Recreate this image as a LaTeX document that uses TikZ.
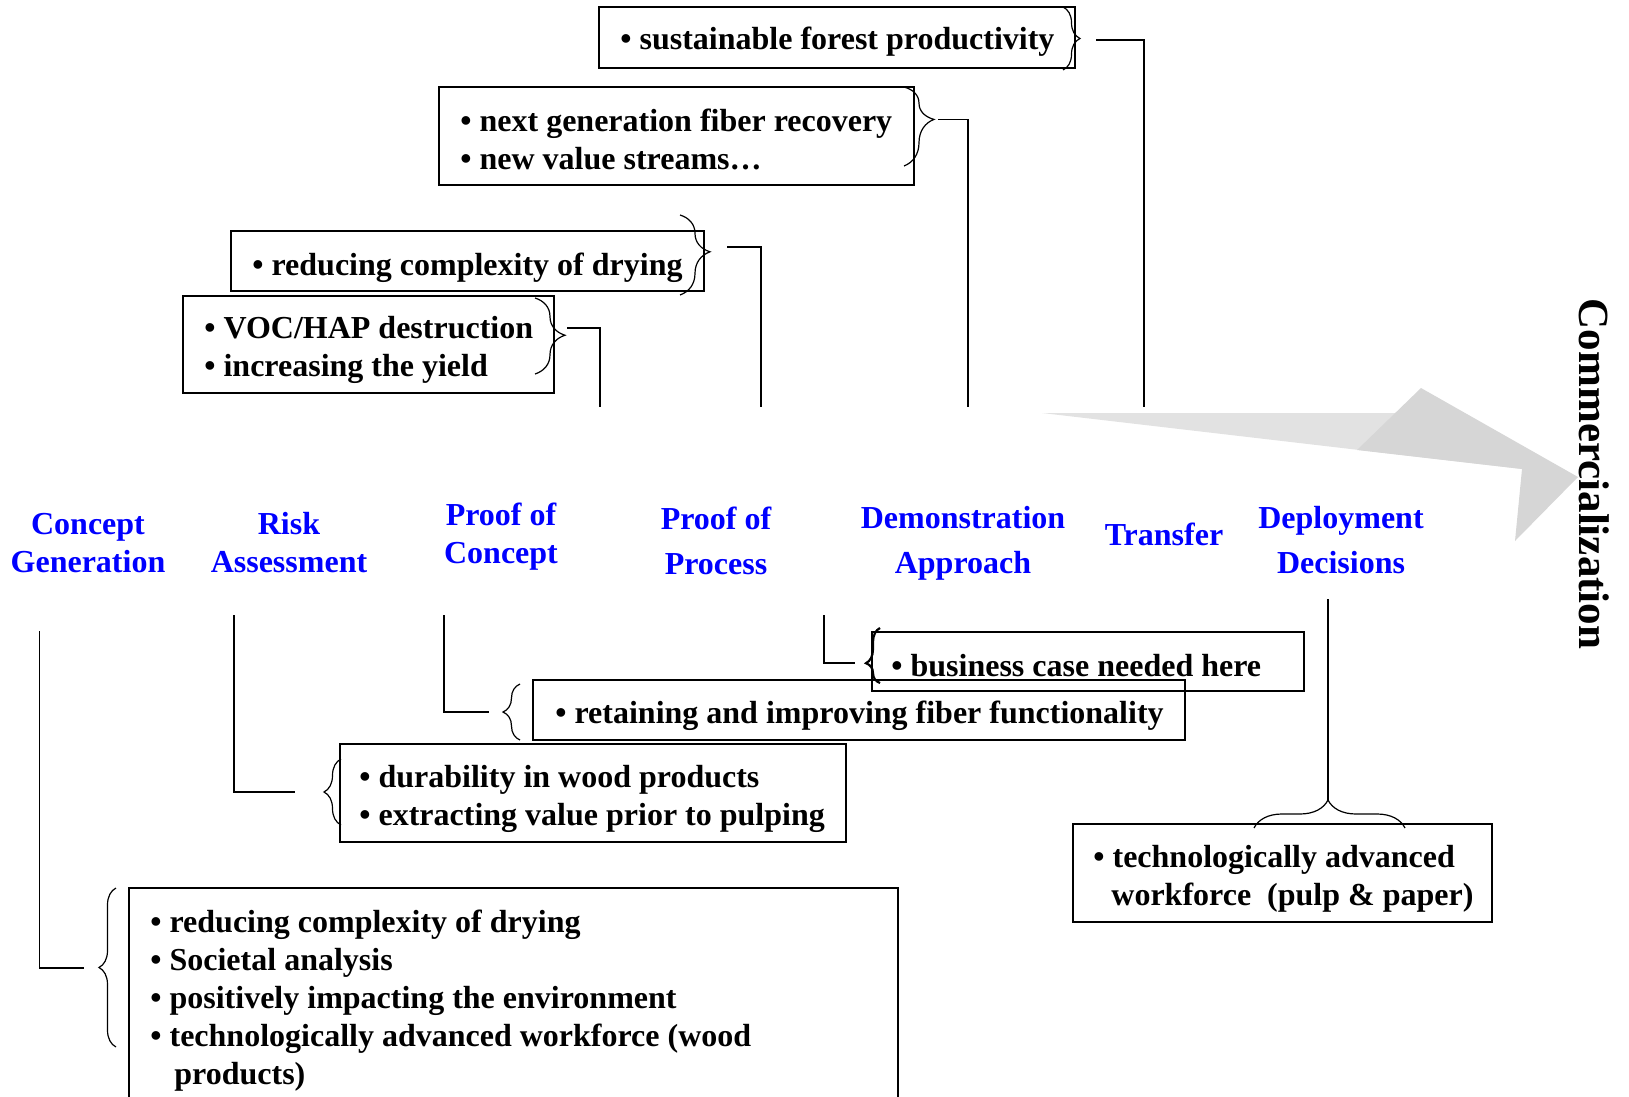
\documentclass[tikz,border=0pt]{standalone}
\usepackage{fontspec}
\setmainfont{Liberation Serif}
\usetikzlibrary{decorations.pathreplacing,fit}
\definecolor{lblblue}{RGB}{0,0,255}
\definecolor{shaftgray}{RGB}{226,226,226}
\definecolor{headgray}{RGB}{214,214,214}
\begin{document}
\begin{tikzpicture}[x=0.5pt,y=-0.5pt,
  box/.style={draw, line width=1pt, inner sep=0pt},
  txt/.style={anchor=west, inner sep=0pt, align=left, font=\fontsize{16}{19}\selectfont\bfseries},
  lbl/.style={text=lblblue, align=center, inner sep=0pt, font=\fontsize{16}{19}\selectfont\bfseries},
  lblw/.style={text=lblblue, align=center, inner sep=0pt, font=\fontsize{16}{22.5}\selectfont\bfseries},
  conn/.style={line width=0.8pt},
  brc/.style={decorate, decoration={brace, amplitude=#1}, line width=0.6pt},
]
\useasboundingbox (0,0) rectangle (1629,1097);

% ---- commercialization arrow ----
\fill[shaftgray] (1042,413) -- (1396,413) -- (1522,469) -- cycle;
\fill[headgray] (1357,450) -- (1421,388) -- (1578,477) -- (1515,541) -- (1522,469) -- cycle;
\node[rotate=-90, inner sep=0pt, font=\fontsize{21.5}{24}\selectfont\bfseries] (comm) at (1594,474) {Commercialization};

% ---- stage labels ----
\node[lbl]  (lcg)  at (88,543)    {Concept\\Generation};
\node[lbl]  (lra)  at (289,543)   {Risk\\Assessment};
\node[lbl]  (lpoc) at (501,536.5) {Proof of\\Concept};
\node[lblw] (lpop) at (716,540.5) {Proof of\\Process};
\node[lblw] (lda)  at (963,543.5) {Demonstration\\Approach};
\node[lbl]  (ltr)  at (1164,534)  {Transfer};
\node[lblw] (ldd)  at (1341,540.5){Deployment\\Decisions};

% ---- top boxes ----
\node[box, fit={(599,7) (1075,68)}] (b1) {};
\node[txt] (t1) at (620,42) {• sustainable forest productivity};
\draw[brc=8.5pt] (1063,7) -- (1063,70);
\coordinate (c1s) at (1096,40); \coordinate (c1e) at (1144,407);
\draw[conn] (c1s) -| (c1e);

\node[box, fit={(439,87) (914,185)}] (b2) {};
\node[txt] (t2) at (460,139) {• next generation fiber recovery\\• new value streams…};
\draw[decorate, decoration={brace, amplitude=15pt, aspect=0.41}, line width=0.6pt] (904,87) -- (904,166);
\coordinate (c2s) at (938,119.5); \coordinate (c2e) at (968,407);
\draw[conn] (c2s) -| (c2e);

\node[box, fit={(231,231) (704,291)}] (b3) {};
\node[txt] (t3) at (252,268) {• reducing complexity of drying};
\draw[decorate, decoration={brace, amplitude=15pt, aspect=0.46}, line width=0.6pt] (680,215) -- (680,295);
\coordinate (c3s) at (727,247); \coordinate (c3e) at (761,407);
\draw[conn] (c3s) -| (c3e);

\node[box, fit={(183,296) (554,393)}] (b4) {};
\node[txt] (t4) at (204,350) {• VOC/HAP destruction\\• increasing the yield};
\draw[decorate, decoration={brace, amplitude=15pt, aspect=0.49}, line width=0.6pt] (535,298) -- (535,374);
\coordinate (c4s) at (567,328); \coordinate (c4e) at (600,407);
\draw[conn] (c4s) -| (c4e);

% ---- bottom boxes ----
\node[box, fit={(129,888) (898,1104)}] (bcg) {};
\node[txt] (tcg) at (150,1001) {• reducing complexity of drying\\• Societal analysis\\• positively impacting the environment\\• technologically advanced workforce (wood\\\hspace*{12pt}products)};
\draw[brc=8.5pt] (116,1047) -- (116,888);
\coordinate (g1s) at (39.5,631); \coordinate (g1e) at (84,968);
\draw[conn] (g1s) |- (g1e);

\node[box, fit={(340,744) (846,842)}] (bra) {};
\node[txt] (tra) at (359,799) {• durability in wood products\\• extracting value prior to pulping};
\draw[brc=8.5pt] (341,825) -- (341,759);
\coordinate (g2s) at (234,615); \coordinate (g2e) at (295,792);
\draw[conn] (g2s) |- (g2e);

\node[box, fit={(533,680) (1185,740)}] (bpoc) {};
\node[txt] (tpoc) at (555,716) {• retaining and improving fiber functionality};
\draw[brc=8.5pt] (520,740) -- (520,684);
\coordinate (g3s) at (444,615); \coordinate (g3e) at (489,712);
\draw[conn] (g3s) |- (g3e);

\node[box, fit={(872,632) (1304,691)}] (bpop) {};
\node[txt] (tpop) at (891,666) {• business case needed here};
\draw[decorate, decoration={brace, amplitude=7pt, aspect=0.36}, line width=1.1pt] (880,683) -- (880,628);
\coordinate (g4s) at (824,615); \coordinate (g4e) at (855,663);
\draw[conn] (g4s) |- (g4e);

\node[box, fit={(1073,824) (1492,922)}] (bdd) {};
\node[txt] (tdd) at (1093,878.5) {• technologically advanced\\\hspace*{9pt}workforce\ \ (pulp \& paper)};
\draw[decorate, decoration={brace, amplitude=14pt, aspect=0.49}, line width=0.6pt] (1254,828) -- (1405,828);
\coordinate (g5s) at (1328,599); \coordinate (g5e) at (1328,800);
\draw[conn] (g5s) -- (g5e);
\end{tikzpicture}
\end{document}
